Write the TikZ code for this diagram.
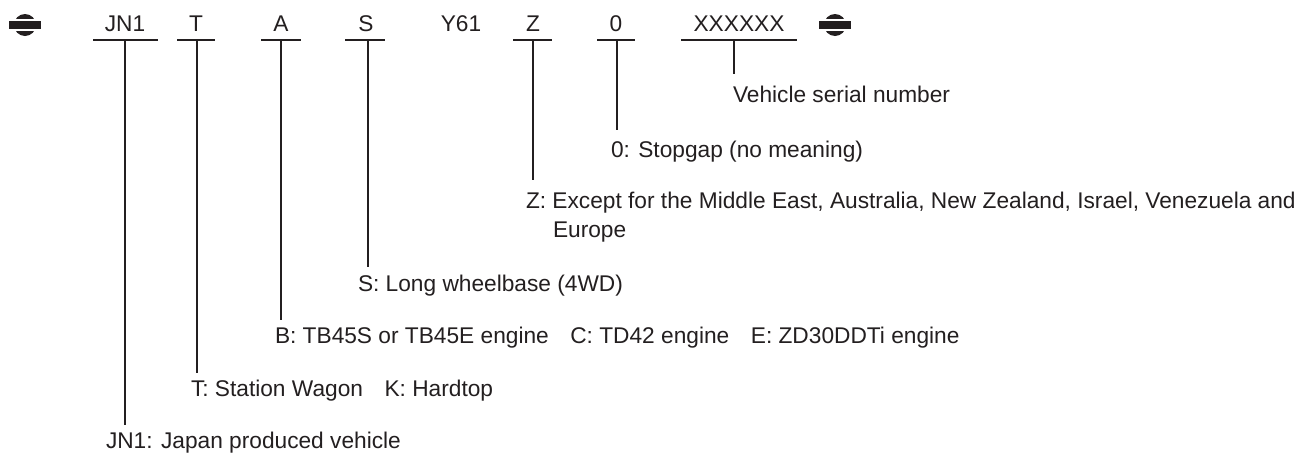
\documentclass[tikz,border=0pt]{standalone}
\usepackage{fontspec}
\setmainfont{Liberation Sans}
\definecolor{ink}{HTML}{231F20}
\begin{document}
\begin{tikzpicture}[x=1pt,y=-1pt,
  txt/.style={inner sep=0pt,outer sep=0pt,anchor=base west,text=ink,font=\fontsize{22.7}{27}\selectfont},
  code/.style={txt,anchor=base},
  uline/.style={draw=ink,line width=2.6pt},
  vline/.style={draw=ink,line width=1.3pt},
  mark sym/.pic={
    \fill[ink] (0,0) circle (11pt);
    \fill[white] (-13,-6.2) rectangle (13,-4);
    \fill[white] (-13,4) rectangle (13,6.2);
    \fill[ink] (-16,-4) rectangle (16,4);
  }]
\useasboundingbox[fill=white] (0,0) rectangle (1309,453);
\pic at (25,25) {mark sym};
\pic at (835,25) {mark sym};
% codes
\node[code] (kJN1) at (125,31) {JN1};
\node[code] (kT) at (196,31) {T};
\node[code] (kA) at (281,31) {A};
\node[code] (kS) at (366,31) {S};
\node[code] (kY) at (461,31) {Y61};
\node[code] (kZ) at (533,31) {Z};
\node[code] (k0) at (616,31) {0};
\node[code] (kX) at (739,31) {XXXXXX};
% underlines
\draw[uline] (93,40) -- (158,40);
\draw[uline] (177,40) -- (215,40);
\draw[uline] (261,40) -- (301,40);
\draw[uline] (345,40) -- (385,40);
\draw[uline] (513,40) -- (552,40);
\draw[uline] (597,40) -- (635,40);
\draw[uline] (681,40) -- (797,40);
% line anchors
\coordinate (sJN1) at (125,40); \coordinate (eJN1) at (125,425);
\coordinate (sT) at (197,40);   \coordinate (eT) at (197,373);
\coordinate (sA) at (281,40);   \coordinate (eA) at (281,320);
\coordinate (sS) at (368,40);   \coordinate (eS) at (368,267);
\coordinate (sZ) at (533,40);   \coordinate (eZ) at (533,180);
\coordinate (s0) at (617,40);   \coordinate (e0) at (617,130);
\coordinate (sX) at (734,40);   \coordinate (eX) at (734,74);
% labels
\node[txt] (lX) at (733,102) {Vehicle serial number};
\node[txt] (l0) at (611,157) {0: Stopgap (no meaning)};
\node[txt] (lZ) at (526,208) {Z: Except for the Middle East, Australia, New Zealand, Israel, Venezuela and};
\node[txt] (lZb) at (553,237) {Europe};
\node[txt] (lS) at (358,291) {S: Long wheelbase (4WD)};
\node[txt] (lA) at (275,343) {B: TB45S or TB45E engine\hspace{0.95em}C: TD42 engine\hspace{0.95em}E: ZD30DDTi engine};
\node[txt] (lT) at (191,396) {T: Station Wagon\hspace{0.95em}K: Hardtop};
\node[txt] (lJN1) at (106,448) {JN1: Japan produced vehicle};
% connectors
\draw[vline] (sJN1) -- (eJN1);
\draw[vline] (sT) -- (eT);
\draw[vline] (sA) -- (eA);
\draw[vline] (sS) -- (eS);
\draw[vline] (sZ) -- (eZ);
\draw[vline] (s0) -- (e0);
\draw[vline] (sX) -- (eX);
\end{tikzpicture}
\end{document}
